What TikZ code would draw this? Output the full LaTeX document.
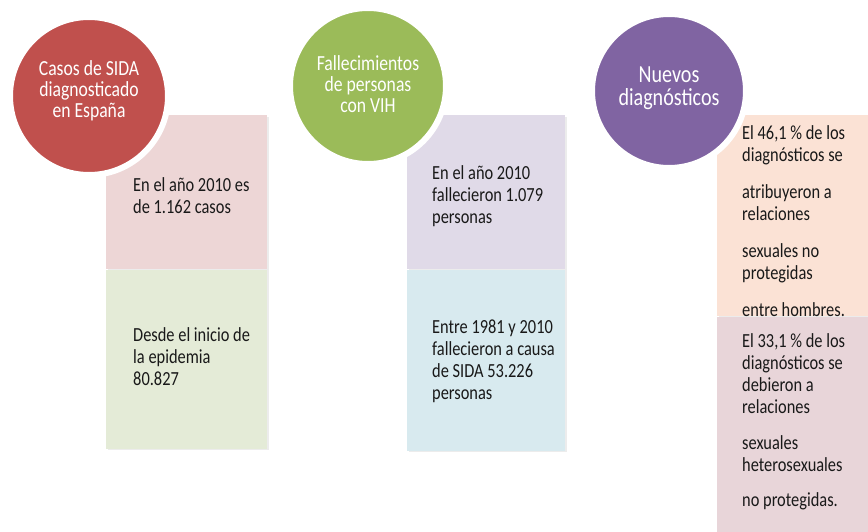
\documentclass[tikz,border=0pt]{standalone}
\usepackage{fontspec}
\setmainfont{Carlito}[FakeStretch=0.82]
\usetikzlibrary{positioning,shadows}
\definecolor{casos}{HTML}{C0504D}
\definecolor{fall}{HTML}{9BBB59}
\definecolor{nuev}{HTML}{8064A2}
\definecolor{rosa}{HTML}{EDD6D6}
\definecolor{verde}{HTML}{E4EBD7}
\definecolor{lila}{HTML}{E0DAE8}
\definecolor{celeste}{HTML}{D8EAEF}
\definecolor{melocoton}{HTML}{FBE2D5}
\definecolor{malva}{HTML}{E8D5D9}

\begin{document}
\begin{tikzpicture}[x=1pt,y=-1pt,
    circ/.style={circle,draw=white,line width=6pt,inner sep=0pt,
        drop shadow={opacity=0.3,shadow xshift=1pt,shadow yshift=-2pt}},
    ctxt/.style={align=center,inner sep=0pt,text=white,font=\fontsize{21.5}{21}\selectfont},
    panel/.style={anchor=north west,inner sep=0pt,
        drop shadow={opacity=0.15,shadow xshift=1.5pt,shadow yshift=-1.5pt}},
    txt/.style={anchor=west,align=left,inner sep=0pt,text=black!90,
        font=\fontsize{20}{22}\selectfont}]
    \useasboundingbox (0,0) rectangle (868,532);
    % paneles
    \node[panel,fill=rosa,minimum width=161pt,minimum height=154pt] (casosA) at (106,115) {};
    \node[panel,fill=verde,minimum width=161pt,minimum height=179pt] (casosB) at (casosA.south west) {};
    \node[panel,fill=lila,minimum width=158pt,minimum height=154pt] (fallA) at (407,115) {};
    \node[panel,fill=celeste,minimum width=158pt,minimum height=181pt] (fallB) at (fallA.south west) {};
    \node[panel,fill=melocoton,minimum width=151pt,minimum height=201pt] (nuevA) at (717,115) {};
    \node[panel,fill=malva,minimum width=151pt,minimum height=216pt] (nuevB) at (nuevA.south west) {};
    % circulos
    \node[circ,fill=casos,minimum size=158pt] (casos) at (89,96) {};
    \node[circ,fill=fall,minimum size=156pt] (fall) at (368,86) {};
    \node[circ,fill=nuev,minimum size=154pt] (nuev) at (669,91) {};
    \node[ctxt] (casosT) at ([yshift=5pt]casos.center) {Casos de SIDA\\diagnosticado\\en España};
    \node[ctxt] (fallT) at ([yshift=2pt]fall.center) {Fallecimientos\\de personas\\con VIH};
    \node[ctxt,font=\fontsize{24.5}{23}\selectfont] (nuevT) at ([yshift=2.5pt]nuev.center) {Nuevos\\diagnósticos};
    % textos
    \node[txt] (casosAt) at (133,196) {En el año 2010 es\\de 1.162 casos};
    \node[txt] (casosBt) at (133,357) {Desde el inicio de\\la epidemia\\80.827};
    \node[txt] (fallAt) at (432,196) {En el año 2010\\fallecieron 1.079\\personas};
    \node[txt] (fallBt) at (432,361) {Entre 1981 y 2010\\fallecieron a causa\\de SIDA 53.226\\personas};
    \node[txt] (nuevAt) at (742,221) {El 46,1 \% de los\\diagnósticos se\\[15pt]atribuyeron a\\relaciones\\[15pt]sexuales no\\protegidas\\[15pt]entre hombres.};
    \node[txt] (nuevBt) at (742,422) {El 33,1 \% de los\\diagnósticos se\\debieron a\\relaciones\\[14pt]sexuales\\heterosexuales\\[13pt]no protegidas.};
\end{tikzpicture}
\end{document}
